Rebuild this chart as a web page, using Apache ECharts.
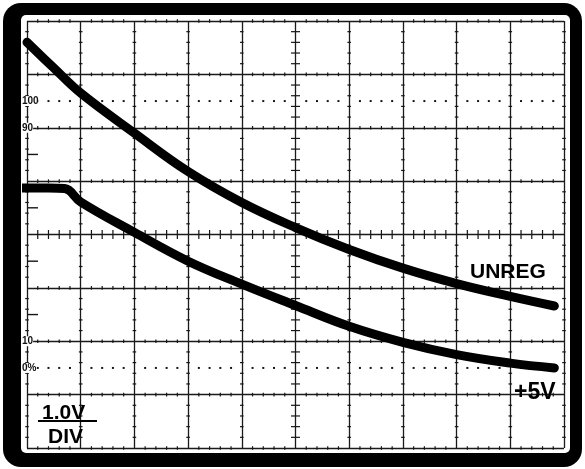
<!DOCTYPE html>
<html>
<head>
<meta charset="utf-8">
<script src="https://cdn.jsdelivr.net/npm/echarts@6/dist/echarts.min.js"></script>
<style>
html,body{margin:0;padding:0;background:#fff;}
#chart{width:585px;height:469px;}
</style>
</head>
<body>
<div id="chart"></div>
<script>
// Values in screen divisions (x: 10 div horizontally, y: 8 div vertically, 1.0 V/DIV)
const unregX = [0, 0.5, 1, 2, 3, 4, 5, 6, 7, 8, 9, 9.82];
const unregY = [7.60, 7.12, 6.65, 5.90, 5.18, 4.60, 4.13, 3.72, 3.37, 3.08, 2.84, 2.66];
const v5X = [-0.11, 0.4, 0.70, 1, 2, 3, 4, 5, 6, 7, 8, 9, 9.82];
const v5Y = [4.87, 4.87, 4.86, 4.61, 4.04, 3.50, 3.07, 2.67, 2.28, 1.98, 1.75, 1.59, 1.50];
const xDivs = 10, yDivs = 8;
const dottedLevels = [6.5, 1.5];          // 100% and 0% reference lines
const edgeMarks = [5.5, 4.5, 3.5, 2.5];   // half-division marks on left edge
const levelLabels = [
  {text: '100', y: 6.5},
  {text: '90', y: 6},
  {text: '10', y: 2},
  {text: '0%', y: 1.5}
];

const zip = (xs, ys) => xs.map((x, i) => [x, ys[i]]);

function renderGraticule(params, api) {
  const children = [];
  const ink = '#151515';
  function tick(x, y, dx, dy) {
    const p = api.coord([x, y]);
    children.push({type: 'line', shape: {x1: p[0] - dx, y1: p[1] - dy, x2: p[0] + dx, y2: p[1] + dy},
      style: {stroke: ink, lineWidth: 1.2}});
  }
  for (let i = 0; i <= xDivs; i++) {
    for (let k = 1; k < yDivs * 5; k++) {
      if (k % 5 === 0) continue;
      tick(i, k / 5, i === 5 ? 4.5 : 1.8, 0);
    }
  }
  for (let j = 0; j <= yDivs; j++) {
    for (let k = 1; k < xDivs * 5; k++) {
      if (k % 5 === 0) continue;
      tick(k / 5, j, 0, j === 4 ? 4.5 : 1.8);
    }
  }
  dottedLevels.forEach(function (lv) {
    for (let k = 1; k < xDivs * 5; k++) {
      if (k % 5 === 0) continue;
      const p = api.coord([k / 5, lv]);
      children.push({type: 'rect', shape: {x: p[0] - 1, y: p[1] - 1, width: 2, height: 2}, style: {fill: ink}});
    }
  });
  edgeMarks.forEach(function (lv) {
    const p = api.coord([0, lv]);
    children.push({type: 'line', shape: {x1: p[0], y1: p[1], x2: p[0] + 11, y2: p[1]},
      style: {stroke: ink, lineWidth: 1.4}});
  });
  levelLabels.forEach(function (l) {
    const p = api.coord([0, l.y]);
    children.push({type: 'text', x: p[0] - 5, y: p[1], style: {
      text: l.text, fill: '#111', font: 'bold 10px "Liberation Sans Narrow", "Liberation Sans", sans-serif',
      verticalAlign: 'middle', align: 'left', backgroundColor: '#fff', padding: [0, 0, 0, 0]}});
  });
  return {type: 'group', children: children};
}

const chart = echarts.init(document.getElementById('chart'), null, {renderer: 'canvas'});
const axisCommon = {
  type: 'value', interval: 1,
  axisLine: {show: false}, axisTick: {show: false}, axisLabel: {show: false},
  splitLine: {show: true, lineStyle: {color: '#1a1a1a', width: 1.3}}
};
const traceStyle = {color: '#000', width: 9, cap: 'round', join: 'round'};
chart.setOption({
  animation: false,
  backgroundColor: '#fff',
  grid: {left: 27, top: 21, right: 21, bottom: 21},
  xAxis: Object.assign({min: 0, max: xDivs}, axisCommon),
  yAxis: Object.assign({min: 0, max: yDivs}, axisCommon),
  graphic: [
    {type: 'rect', z: -10, shape: {x: 3, y: 3, width: 579, height: 464, r: 18}, style: {fill: '#000'}},
    {type: 'rect', z: -9, shape: {x: 21, y: 15, width: 549, height: 438, r: 5}, style: {fill: '#fff'}},
    {type: 'text', left: 470, top: 262, z: 10, style: {text: 'UNREG', fill: '#000', font: 'bold 21px "Liberation Sans", Arial, sans-serif'}},
    {type: 'text', left: 514, top: 381, z: 10, style: {text: '+5V', fill: '#000', font: 'bold 23px "Liberation Sans", Arial, sans-serif'}},
    {type: 'text', left: 42, top: 403, z: 10, style: {text: '1.0V', fill: '#000', font: 'bold 21px "Liberation Sans", Arial, sans-serif'}},
    {type: 'rect', z: 10, shape: {x: 38, y: 420, width: 59, height: 2}, style: {fill: '#000'}},
    {type: 'text', left: 48, top: 427, z: 10, style: {text: 'DIV', fill: '#000', font: 'bold 21px "Liberation Sans", Arial, sans-serif'}}
  ],
  series: [
    {type: 'custom', renderItem: renderGraticule, data: [[0, 0]], silent: true, z: 1},
    {type: 'line', name: 'UNREG', data: zip(unregX, unregY), smooth: 0.4, showSymbol: false, clip: false, z: 3,
      lineStyle: traceStyle},
    {type: 'line', name: '+5V', data: zip(v5X, v5Y), smooth: 0.4, showSymbol: false, clip: false, z: 3,
      lineStyle: traceStyle}
  ]
});
</script>
</body>
</html>
